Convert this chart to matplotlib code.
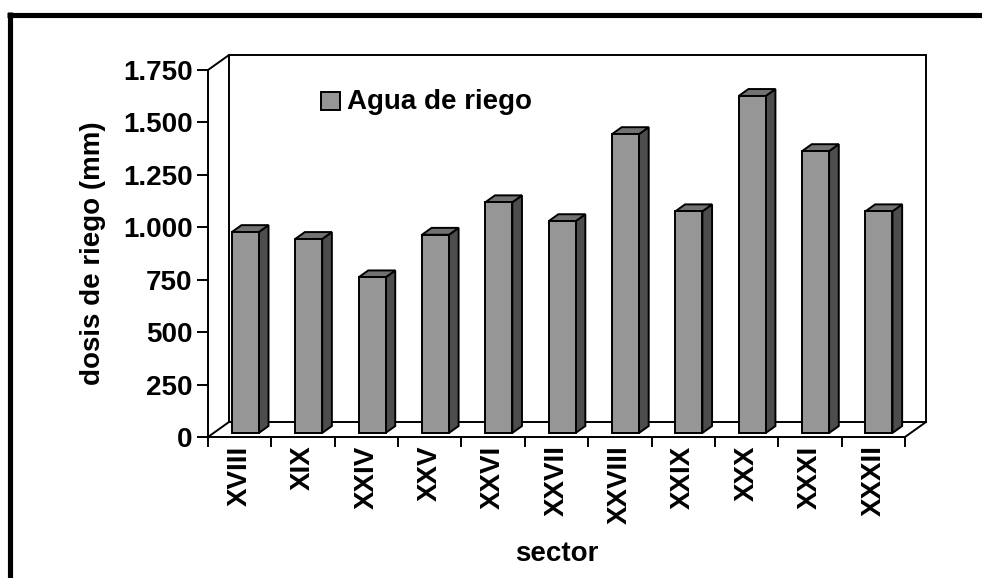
"""3D-style column chart of irrigation dose per sector."""

import matplotlib

matplotlib.use("Agg")
import matplotlib.pyplot as plt
from matplotlib.patches import Polygon, Rectangle
from matplotlib.lines import Line2D
from matplotlib.ticker import FixedLocator, FuncFormatter

plt.rcParams["font.family"] = ["Liberation Sans", "DejaVu Sans"]
plt.rcParams["font.weight"] = "bold"

sectors = ["XVIII", "XIX", "XXIV", "XXV", "XXVI", "XXVII",
           "XXVIII", "XXIX", "XXX", "XXXI", "XXXII"]
dosis = [958, 925, 742, 945, 1100, 1010, 1425, 1057, 1607, 1344, 1057]
y_ticks = [0, 250, 500, 750, 1000, 1250, 1500, 1750]
series_name = "Agua de riego"

W, H = 982, 578
FRONT = "#969696"
SIDE = "#4d4d4d"
TOP = "#727272"
FS = 20

fig = plt.figure(figsize=(W / 100, H / 100), dpi=100)
# front plane of the 3D box: x 208..905 px, y 437..70 px
ax = fig.add_axes([208 / W, 1 - 437 / H, 697 / W, 367 / H])
n = len(sectors)
ymax = 1750
ax.set_xlim(0, n)
ax.set_ylim(0, ymax)

# depth offset of the box, in data units
DX = 21 / (697 / n)
DY = 15 / (367 / ymax)
lw = 1.4

# back wall, left wall edge and floor
ax.add_patch(Polygon([(DX, DY), (n + DX, DY), (n + DX, ymax + DY), (DX, ymax + DY)],
                     closed=True, facecolor="white", edgecolor="black", lw=lw,
                     clip_on=False, zorder=1))
for xs, ys in [([0, DX], [0, DY]), ([0, DX], [ymax, ymax + DY]),
               ([n, n + DX], [0, DY])]:
    ax.add_line(Line2D(xs, ys, color="black", lw=lw, clip_on=False, zorder=2))

# bars
d0, d1 = 0.27, 0.73
bw = 0.426
for i, v in enumerate(dosis):
    x0 = i + 0.5 - bw / 2 + d0 * DX
    x1 = x0 + bw
    yb = d0 * DY
    yt = v + d0 * DY
    ddx = (d1 - d0) * DX
    ddy = (d1 - d0) * DY
    side = [(x1, yb), (x1 + ddx, yb + ddy), (x1 + ddx, yt + ddy), (x1, yt)]
    top = [(x0, yt), (x1, yt), (x1 + ddx, yt + ddy), (x0 + ddx, yt + ddy)]
    front = [(x0, yb), (x1, yb), (x1, yt), (x0, yt)]
    for pts, col in [(side, SIDE), (top, TOP), (front, FRONT)]:
        ax.add_patch(Polygon(pts, closed=True, facecolor=col, edgecolor="black",
                             lw=lw, clip_on=False, zorder=3, joinstyle="miter"))

for s in ["top", "right"]:
    ax.spines[s].set_visible(False)
for s in ["left", "bottom"]:
    ax.spines[s].set_linewidth(lw)
    ax.spines[s].set_zorder(4)
ax.patch.set_visible(False)

ax.yaxis.set_major_locator(FixedLocator(y_ticks))
ax.yaxis.set_major_formatter(FuncFormatter(lambda v, p: f"{int(v):,}".replace(",", ".")))
ax.tick_params(axis="y", direction="out", length=8, width=lw, pad=3, labelsize=FS)

ax.set_xticks(range(n + 1))
ax.set_xticklabels([])
ax.set_xticks([i + 0.5 for i in range(n)], minor=True)
ax.set_xticklabels(sectors, minor=True, rotation=90, va="top", ha="center")
ax.tick_params(axis="x", which="major", direction="out", length=7, width=lw)
ax.tick_params(axis="x", which="minor", length=0, pad=6, labelsize=FS)

fig.text(93 / W, 1 - 253 / H, "dosis de riego (mm)", rotation=90,
         ha="center", va="center", fontsize=FS, fontweight="bold")
fig.text(557 / W, 1 - 554 / H, "sector", ha="center", va="center",
         fontsize=FS, fontweight="bold")

# legend
fig.patches.append(Rectangle((321 / W, 1 - 110 / H), 19 / W, 18 / H,
                             transform=fig.transFigure, facecolor=FRONT,
                             edgecolor="black", lw=lw))
fig.text(347 / W, 1 - 102 / H, series_name, ha="left", va="center",
         fontsize=FS, fontweight="bold")

# outer frame (top and left)
fig.add_artist(Line2D([7 / W, 1], [1 - 14.7 / H, 1 - 14.7 / H],
                      transform=fig.transFigure, color="black", lw=3.7,
                      solid_capstyle="butt"))
fig.add_artist(Line2D([9.7 / W, 9.7 / W], [0, 1 - 12.3 / H],
                      transform=fig.transFigure, color="black", lw=3.7,
                      solid_capstyle="butt"))

fig.savefig("out.png", dpi=100)
plt.close(fig)
